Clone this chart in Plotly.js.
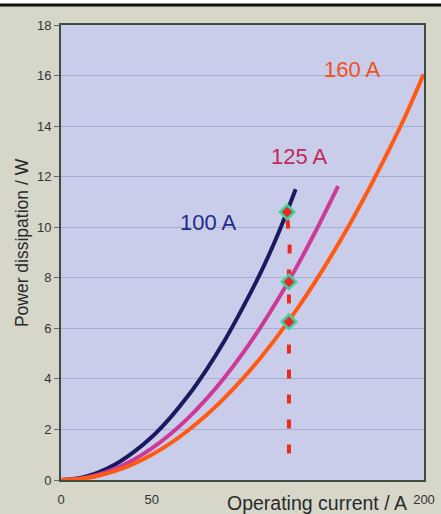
<!DOCTYPE html>
<html>
<head>
<meta charset="utf-8">
<script src="https://cdn.plot.ly/plotly-3.0.1.min.js"></script>
<style>html,body{margin:0;padding:0;background:#d6d7c9;}#chart{width:441px;height:514px;}</style>
</head>
<body>
<div id="chart"></div>
<script>
// Operating current (A) vs power dissipation (W)
const current100 = [0, 10, 20, 30, 40, 50, 60, 70, 80, 90, 100, 110, 120, 129.3];
const power100   = [0, 0.07, 0.28, 0.62, 1.1, 1.7, 2.45, 3.33, 4.35, 5.5, 6.8, 8.2, 9.8, 11.5];

const current125 = [0, 10, 20, 30, 40, 50, 60, 70, 80, 90, 100, 110, 120, 130, 140, 152.7];
const power125   = [0, 0.05, 0.2, 0.45, 0.8, 1.25, 1.8, 2.45, 3.2, 4.05, 5.0, 6.05, 7.2, 8.45, 9.8, 11.63];

const current160 = [0, 10, 20, 30, 40, 50, 60, 70, 80, 90, 100, 110, 120, 130, 140, 150, 160, 170, 180, 190, 199.8];
const power160   = [0, 0.04, 0.16, 0.36, 0.64, 1.0, 1.44, 1.96, 2.56, 3.24, 4.0, 4.84, 5.76, 6.76, 7.84, 9.0, 10.24, 11.56, 12.96, 14.44, 16.05];

// operating points at 125 A
const markerCurrent = [124.6, 125.6, 125.6];
const markerPower   = [10.6, 7.84, 6.26];

// dashed guide line
const guideCurrent = [124.8, 126.0, 125.6, 125.6];
const guidePower   = [10.3, 9.2, 8.3, 0.5];

const seriesLabels = ["100 A", "125 A", "160 A"];
const labelCurrent = [81.4, 131.5, 160.4];
const labelPower   = [10.2, 12.8, 16.25];

const xTicks = [0, 50, 200];
const yTicks = [0, 2, 4, 6, 8, 10, 12, 14, 16, 18];

const cNavy = "#1b1a60", cPink = "#cc3a98", cOrange = "#ff5a14";
const labelColors = ["#1f2a8a", "#c2285a", "#f05020"];

const traces = [
  {x: current100, y: power100, mode: "lines", line: {color: cNavy, width: 4, shape: "spline", smoothing: 0.6}, hoverinfo: "skip"},
  {x: current125, y: power125, mode: "lines", line: {color: cPink, width: 4, shape: "spline", smoothing: 0.6}, hoverinfo: "skip"},
  {x: current160, y: power160, mode: "lines", line: {color: cOrange, width: 4, shape: "spline", smoothing: 0.6}, hoverinfo: "skip"},
  {x: guideCurrent, y: guidePower, mode: "lines", line: {color: "#ec2a1e", width: 4, dash: "9px,16px"}, hoverinfo: "skip"},
  {x: markerCurrent, y: markerPower, mode: "markers",
   marker: {symbol: "diamond", size: 11, color: "#e8282a", line: {color: "#3ed39a", width: 2.5}}, hoverinfo: "skip"}
];

const annotations = seriesLabels.map((t, i) => ({
  x: labelCurrent[i], y: labelPower[i], xref: "x", yref: "y", text: t, showarrow: false,
  font: {family: "Liberation Sans, Arial, sans-serif", size: 22, color: labelColors[i]}
}));
annotations.push({
  x: 141, y: -0.022, xref: "x", yref: "paper", yanchor: "top", xanchor: "center",
  text: "Operating current / A", showarrow: false,
  font: {family: "Liberation Sans, Arial, sans-serif", size: 19.5, color: "#2a2a2a"}
});
annotations.push({
  x: -0.107, y: 0.521, xref: "paper", yref: "paper", textangle: -90,
  text: "Power dissipation / W", showarrow: false, xanchor: "center", yanchor: "middle",
  font: {family: "Liberation Sans, Arial, sans-serif", size: 17.5, color: "#2a2a2a"}
});

const layout = {
  width: 441, height: 514,
  margin: {l: 61, r: 17, t: 25, b: 34},
  paper_bgcolor: "#d6d7c9",
  plot_bgcolor: "#c9cdea",
  showlegend: false,
  font: {family: "Liberation Sans, Arial, sans-serif", color: "#333"},
  xaxis: {
    range: [0, 200], tickvals: xTicks, ticktext: xTicks.map(String),
    showgrid: false, zeroline: false,
    showline: true, mirror: true, linecolor: "#3f4d40", linewidth: 2,
    ticks: "outside", ticklen: 6, tickcolor: "rgba(0,0,0,0)",
    tickfont: {size: 13, color: "#333"}
  },
  yaxis: {
    range: [0, 18], tickvals: yTicks,
    showgrid: true, gridcolor: "rgba(130,135,185,0.45)", gridwidth: 1,
    zeroline: false,
    showline: true, mirror: true, linecolor: "#3f4d40", linewidth: 2,
    ticks: "outside", ticklen: 5, tickcolor: "#666",
    tickfont: {size: 13, color: "#333"}
  },
  annotations: annotations,
  shapes: [
    {type: "rect", xref: "paper", yref: "paper", x0: -0.2, x1: 1.1, y0: 1.044, y1: 1.1,
     fillcolor: "#ffffff", line: {width: 0}, layer: "above"},
    {type: "line", xref: "paper", yref: "paper", x0: -0.2, x1: 1.1, y0: 1.044, y1: 1.044,
     line: {color: "#111", width: 3}, layer: "above"}
  ]
};

Plotly.newPlot("chart", traces, layout, {displayModeBar: false, staticPlot: true});
</script>
</body>
</html>
